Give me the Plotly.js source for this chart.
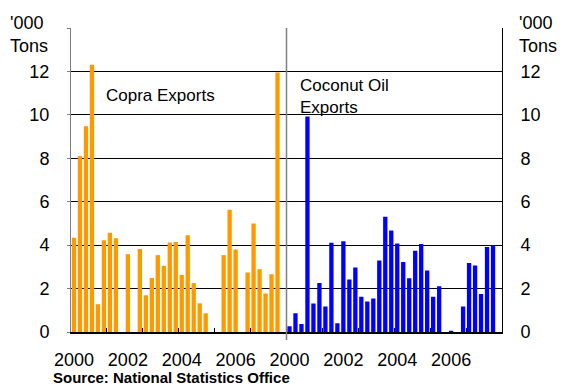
<!DOCTYPE html>
<html>
<head>
<meta charset="utf-8">
<script src="https://cdn.plot.ly/plotly-3.0.1.min.js"></script>
<style>
  html, body { margin: 0; padding: 0; background: #fff; }
  #chart { width: 564px; height: 385px; }
</style>
</head>
<body>
<div id="chart"></div>
<script>
// Export volumes, '000 tons, one value per period (last slot of each panel empty)
const copraExports = [4.34, 8.11, 9.48, 12.31, 1.28, 4.23, 4.57, 4.32, 0, 3.58, 0, 3.82,
                      1.69, 2.49, 3.54, 3.05, 4.12, 4.15, 2.63, 4.45, 2.25, 1.32, 0.86, 0,
                      0, 3.54, 5.63, 3.80, 0, 2.74, 5.00, 2.89, 1.77, 2.66, 11.95, null];
const coconutOilExports = [0.26, 0.86, 0.37, 9.92, 1.31, 2.26, 1.17, 4.11, 0.40, 4.18, 2.42, 2.97,
                           1.62, 1.40, 1.54, 3.29, 5.31, 4.68, 4.08, 3.22, 2.48, 3.74, 4.05, 2.83,
                           1.62, 2.11, 0, 0.06, 0, 1.17, 3.18, 3.06, 1.75, 3.91, 4.00, null];
const yearLabels = ['2000', '2002', '2004', '2006'];
const yearLabelPeriods = [0, 9, 18, 27];
const tickPeriods = [-0.5, 5.5, 11.5, 17.5, 23.5, 29.5, 35.5];
const yTickValues = [0, 2, 4, 6, 8, 10, 12, 14];
const yTickText = ['0', '2', '4', '6', '8', '10', '12', ''];

const W = 564, H = 385;
const M = { l: 71, r: 62, t: 28, b: 53 };
const px = x => (x - M.l) / (W - M.l - M.r);
const py = y => 1 - (y - M.t) / (H - M.t - M.b);

const FONT = 'Arial, "Liberation Sans", sans-serif';
const periods = arr => arr.map((_, i) => i);
const xRange = [-0.5, 35.5];

const traces = [
  { type: 'bar', x: periods(copraExports), y: copraExports, xaxis: 'x', yaxis: 'y',
    marker: { color: '#FF9900' }, hoverinfo: 'y', showlegend: false },
  { type: 'bar', x: periods(coconutOilExports), y: coconutOilExports, xaxis: 'x2', yaxis: 'y2',
    marker: { color: '#0000FF' }, hoverinfo: 'y', showlegend: false },
  // empty traces that bind the tick-mark overlay axes
  { type: 'scatter', x: [], y: [], xaxis: 'x3', yaxis: 'y', showlegend: false, hoverinfo: 'skip' },
  { type: 'scatter', x: [], y: [], xaxis: 'x4', yaxis: 'y2', showlegend: false, hoverinfo: 'skip' }
];

const labelAxis = (domain, anchor) => ({
  domain: domain, anchor: anchor, range: xRange,
  tickmode: 'array', tickvals: yearLabelPeriods, ticktext: yearLabels,
  ticks: '', ticklabelstandoff: 10,
  tickfont: { family: FONT, size: 18, color: '#000' },
  showgrid: false, zeroline: false,
  showline: true, linecolor: '#000', linewidth: 2, fixedrange: true
});

const tickAxis = (overlay, anchor) => ({
  overlaying: overlay, anchor: anchor, range: xRange,
  tickmode: 'array', tickvals: tickPeriods,
  ticks: 'inside', ticklen: 4, tickwidth: 1, tickcolor: '#000',
  showticklabels: false, showgrid: false, zeroline: false, showline: false, fixedrange: true
});

const valueAxis = (anchor, side, lineColor, tickDir) => ({
  anchor: anchor, side: side, range: [0, 14],
  tickmode: 'array', tickvals: yTickValues, ticktext: yTickText,
  ticks: tickDir, ticklen: 3, tickcolor: lineColor, ticklabelstandoff: 14,
  tickfont: { family: FONT, size: 18, color: '#000' },
  showgrid: true, gridcolor: '#000', gridwidth: 1,
  zeroline: false, showline: true, linecolor: lineColor, linewidth: 1, fixedrange: true
});

const layout = {
  width: W, height: H,
  margin: { l: M.l, r: M.r, t: M.t, b: M.b, pad: 0 },
  paper_bgcolor: '#fff', plot_bgcolor: '#fff',
  bargap: 0.28,
  font: { family: FONT, color: '#000' },
  xaxis: labelAxis([0, 0.5], 'y'),
  xaxis2: labelAxis([0.5, 1], 'y2'),
  xaxis3: tickAxis('x', 'y'),
  xaxis4: tickAxis('x2', 'y2'),
  yaxis: valueAxis('x', 'left', '#808080', 'outside'),
  yaxis2: valueAxis('x2', 'right', '#000', 'inside'),
  shapes: [
    { type: 'line', xref: 'paper', yref: 'paper', x0: 0.5, x1: 0.5, y0: py(340), y1: 1,
      line: { color: '#808080', width: 1.5 } }
  ],
  annotations: [
    { text: "'000<br>Tons", xref: 'paper', yref: 'paper', x: px(8), y: py(11),
      xanchor: 'left', yanchor: 'top', align: 'left', showarrow: false,
      font: { family: FONT, size: 18, color: '#000' } },
    { text: "'000<br>Tons", xref: 'paper', yref: 'paper', x: px(517), y: py(11),
      xanchor: 'left', yanchor: 'top', align: 'left', showarrow: false,
      font: { family: FONT, size: 18, color: '#000' } },
    { text: 'Copra Exports', xref: 'paper', yref: 'paper', x: px(104), y: py(95),
      xanchor: 'left', yanchor: 'middle', align: 'left', showarrow: false,
      font: { family: FONT, size: 17, color: '#000' } },
    { text: 'Coconut Oil<br>Exports', xref: 'paper', yref: 'paper', x: px(298), y: py(74),
      xanchor: 'left', yanchor: 'top', align: 'left', showarrow: false,
      font: { family: FONT, size: 17, color: '#000' } },
    { text: '<b>Source: National Statistics Office</b>', xref: 'paper', yref: 'paper',
      x: px(51), y: py(377), xanchor: 'left', yanchor: 'middle', align: 'left', showarrow: false,
      font: { family: FONT, size: 15, color: '#000' } }
  ]
};

Plotly.newPlot('chart', traces, layout, { staticPlot: true, displayModeBar: false });
</script>
</body>
</html>
